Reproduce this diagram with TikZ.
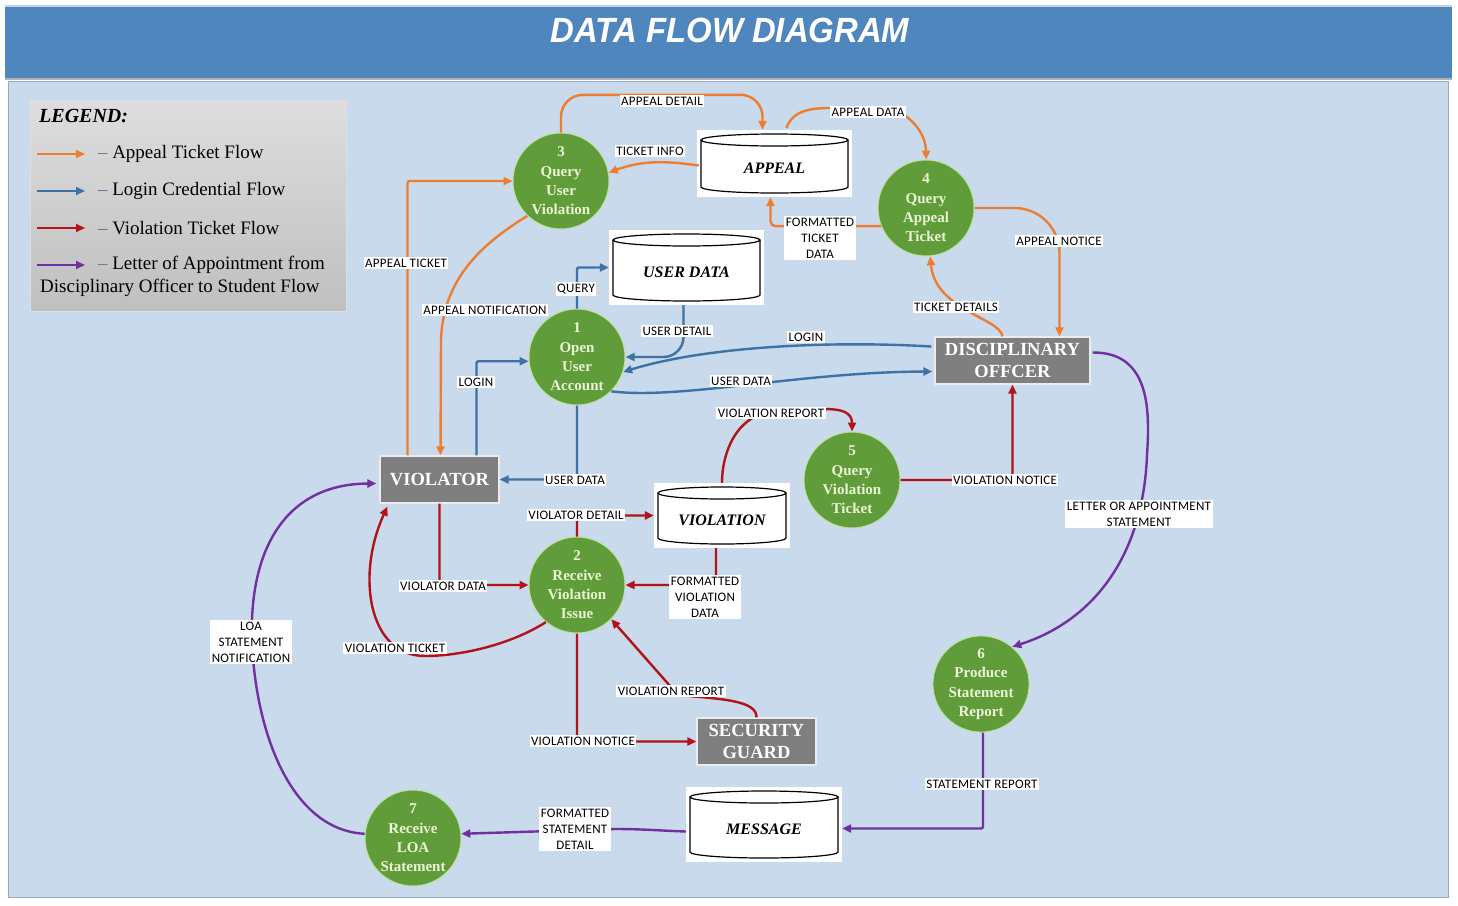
\documentclass[tikz,border=0pt]{standalone}
\usepackage{fontspec}
\setmainfont{Liberation Serif}
\newfontfamily\lblfont{Carlito}[LetterSpace=2]
\newfontfamily\titlefont{Liberation Sans}
\usepackage{tikz}
\usetikzlibrary{arrows.meta,calc,positioning}

\definecolor{bannerblue}{RGB}{79,134,190}
\definecolor{bannertop}{RGB}{190,210,232}
\definecolor{panelblue}{RGB}{200,218,235}
\definecolor{panelline}{RGB}{150,172,196}
\definecolor{appealorange}{RGB}{237,125,49}
\definecolor{loginblue}{RGB}{62,114,165}
\definecolor{ticketred}{RGB}{178,18,24}
\definecolor{loapurple}{RGB}{112,48,160}
\definecolor{procgreen}{RGB}{96,156,58}
\definecolor{procedge}{RGB}{190,225,160}
\definecolor{proctext}{RGB}{236,246,214}
\definecolor{entgray}{RGB}{127,127,127}
\definecolor{legdash}{RGB}{90,120,160}

\tikzset{
  flowline/.style={line width=2.4pt,->},
  appealflow/.style={flowline,appealorange},
  loginflow/.style={flowline,loginblue},
  ticketflow/.style={flowline,ticketred},
  loaflow/.style={flowline,loapurple},
  proc/.style={circle,minimum size=96pt,inner sep=0pt,fill=procgreen,draw=procedge,
    line width=1pt,text=proctext,align=center,font=\bfseries\fontsize{15}{19.3}\selectfont},
  ent/.style={rectangle,fill=entgray,draw=white!85!gray,line width=1.2pt,text=white,
    align=center,minimum height=47pt,inner sep=1pt,font=\bfseries\fontsize{18.5}{21.5}\selectfont},
  store/.style={rectangle,fill=white,minimum width=#1,minimum height=67pt,inner sep=0pt,
    text height=21pt,text depth=2pt,
    font=\bfseries\itshape\fontsize{16}{18}\selectfont,
    path picture={
      \draw[line width=1.2pt] ($(path picture bounding box.north west)+(4,-10)$)
        -- ($(path picture bounding box.south west)+(4,10)$)
        arc[start angle=180,end angle=360,x radius={#1/2-4},y radius=6]
        -- ($(path picture bounding box.north east)+(-4,-10)$);
      \draw[line width=1.2pt] ($(path picture bounding box.north)+(0,-10)$)
        ellipse[x radius={#1/2-4},y radius=6];
    }},
  lbl/.style={fill=white,inner sep=1.5pt,align=center,font=\lblfont\fontsize{13}{16}\selectfont},
  legendbox/.style={rectangle,minimum width=316pt,minimum height=211pt,
    top color=black!13,bottom color=black!25,draw=white!75!gray},
  legtxt/.style={anchor=west,inner sep=0pt,text=black,font=\fontsize{19}{23}\selectfont}
}

\begin{document}
\begin{tikzpicture}[x=1pt,y=1pt,>={Triangle[length=9pt,width=8pt]}]
\useasboundingbox (0,0) rectangle (1458,-905);
\fill[white] (0,0) rectangle (1458,-905);
% banner and panel
\fill[bannerblue] (5,-5) rectangle (1452,-78);
\draw[bannertop,line width=2pt] (5,-6) -- (1452,-6);
\fill[black!30] (5,-78) rectangle (1452,-80);
\filldraw[fill=panelblue,draw=panelline] (8,-81) rectangle (1448,-897);
\node[text=white,xscale=0.94,font=\titlefont\bfseries\itshape\fontsize{35}{35}\selectfont] (title) at (730,-30) {DATA FLOW DIAGRAM};

% legend
\node[legendbox] (legend) at (188,-205.5) {};
\node[legtxt,font=\bfseries\itshape\fontsize{20}{24}\selectfont] (legtitle) at (39,-116) {LEGEND:};
\draw[appealflow,line width=2pt] (37,-154) -- (85,-154) node[legtxt,right=12pt] (legA) {{\color{legdash}--} Appeal Ticket Flow};
\draw[loginflow,line width=2pt] (37,-191) -- (85,-191) node[legtxt,right=12pt] (legB) {{\color{legdash}--} Login Credential Flow};
\draw[ticketflow,line width=2pt] (37,-228) -- (85,-228) node[legtxt,right=12pt] (legC) {{\color{legdash}--} Violation Ticket Flow};
\draw[loaflow,line width=2pt] (37,-265) -- (85,-265) node[legtxt,right=12pt] (legD) {{\color{legdash}--} Letter of Appointment from};
\node[legtxt] (legD2) at (40,-288) {Disciplinary Officer to Student Flow};

% processes
\node[proc] (p1) at (577,-357) {1\\Open\\User\\Account};
\node[proc] (p2) at (577,-585) {2\\Receive\\Violation\\Issue};
\node[proc] (p3) at (561,-181) {3\\Query\\User\\Violation};
\node[proc] (p4) at (926,-208) {4\\Query\\Appeal\\Ticket};
\node[proc] (p5) at (852,-480) {5\\Query\\Violation\\Ticket};
\node[proc] (p6) at (981,-684) {6\\Produce\\Statement\\Report};
\node[proc] (p7) at (413,-838) {7\\Receive\\LOA\\Statement};

% data stores
\node[store=155] (appeal) at (774.5,-163.5) {APPEAL};
\node[store=155,minimum height=75pt] (userdata) at (686.5,-267.5) {USER DATA};
\node[store=136,minimum height=65pt] (violation) at (722,-515.5) {VIOLATION};
\node[store=156,minimum height=75pt] (message) at (764,-824.5) {MESSAGE};

% entities
\node[ent,minimum width=119pt] (violator) at (439.5,-479.5) {VIOLATOR};
\node[ent,minimum width=155pt] (disc) at (1012.5,-360.5) {DISCIPLINARY\\OFFCER};
\node[ent,minimum width=119pt] (guard) at (756.5,-741.5) {SECURITY\\GUARD};

% appeal flows
\draw[appealflow,rounded corners=22pt] (p3.north) |- ($(appeal.north)+(-12,35)$) -- ($(appeal.north)+(-12,0)$);
\draw[appealflow] ($(appeal.north)+(12,2)$) to[out=70,in=180] (840,-108) -- (880,-108) to[out=0,in=90] (p4.north);
\draw[appealflow] ($(appeal.west)+(2,-2)$) to[out=172,in=20] (p3.10);
\draw[appealflow,rounded corners=5pt] (p4.202) -| ($(appeal.south)+(-4,0)$);
\draw[appealflow,rounded corners=45pt] (p4.east) -| ($(disc.north)+(47,0)$);
\draw[appealflow] ($(disc.north)+(-10,0)$) .. controls (1000,-318) and (935,-310) .. (p4.-85);
\draw[appealflow,rounded corners=2pt] ($(violator.north)+(-32,0)$) |- (p3.west);
\draw[appealflow] (p3.226) .. controls (480,-245) and (443,-280) .. (441,-340) -- ($(violator.north)+(1,0)$);

% login flows
\draw[loginflow,rounded corners=2pt] (p1.north) |- (userdata.west);
\draw[loginflow,rounded corners=20pt] ($(userdata.south)+(-3,0)$) |- (p1.east);
\draw[loginflow,rounded corners=2pt] ($(violator.north)+(37,0)$) |- (p1.185);
\draw[loginflow,rounded corners=2pt] (p1.south) |- (violator.east);
\draw[loginflow] ($(disc.west)+(-3,14)$) .. controls (820,-340) and (700,-348) .. (p1.-18);
\draw[loginflow] (p1.-45) .. controls (680,-400) and (800,-372) .. ($(disc.west)+(-2,-11)$);

% violation flows
\draw[ticketflow,rounded corners=2pt] (p2.north) |- (violation.west);
\draw[ticketflow] (violation.north) to[out=90,in=180] (775,-412) to[out=0,in=90] (p5.north);
\draw[ticketflow,rounded corners=2pt] (p5.east) -| (disc.south);
\draw[ticketflow,rounded corners=2pt] ($(violation.south)+(-6,0)$) |- (p2.east);
\draw[ticketflow,rounded corners=2pt] (violator.south) |- (p2.west);
\draw[ticketflow] (p2.230) .. controls (510,-645) and (460,-656) .. (425,-656)
  .. controls (368,-656) and (356,-575) .. ($(violator.south west)+(8,-3)$);
\draw[ticketflow] (guard.north) .. controls (757,-700) and (720,-699) .. (678,-695) -- (p2.-45);
\draw[ticketflow,rounded corners=2pt] (p2.south) |- (guard.west);

% letter of appointment flows
\draw[loaflow] ($(disc.east)+(2,8)$) .. controls (1150,-352) and (1150,-410) .. (1147,-455)
  .. controls (1143,-560) and (1090,-622) .. (p6.50);
\draw[loaflow,rounded corners=2pt] ($(p6.south)+(2,0)$) |- ($(message.east)+(0,-4)$);
\draw[loaflow] ($(message.west)+(0,-7)$) to[out=178,in=0] (615,-829) -- (p7.5);
\draw[loaflow] (p7.175) .. controls (290,-830) and (255,-730) .. (252,-640)
  .. controls (249,-550) and (285,-484) .. ($(violator.west)+(-3,-4)$);

% flow labels
\path (662,-101) node[lbl] (lApDetail) {APPEAL DETAIL}
  (868,-112) node[lbl] (lApData) {APPEAL DATA}
  (650,-151) node[lbl] (lTkInfo) {TICKET INFO}
  (820,-238) node[lbl] (lFmTicket) {FORMATTED\\TICKET\\DATA}
  (1059,-241) node[lbl] (lApNotice) {APPEAL NOTICE}
  (956,-307) node[lbl] (lTkDetails) {TICKET DETAILS}
  (406,-263) node[lbl] (lApTicket) {APPEAL TICKET}
  (485,-310) node[lbl] (lApNotif) {APPEAL NOTIFICATION}
  (576,-289) node[lbl] (lQuery) {QUERY}
  (677,-331) node[lbl] (lUsDetail) {USER DETAIL}
  (476,-382) node[lbl] (lLoginA) {LOGIN}
  (806,-337) node[lbl] (lLoginB) {LOGIN}
  (741,-381) node[lbl] (lUsDataB) {USER DATA}
  (575,-480) node[lbl] (lUsDataA) {USER DATA}
  (771,-413) node[lbl] (lVRepA) {VIOLATION REPORT}
  (1005,-480) node[lbl] (lVNotA) {VIOLATION NOTICE}
  (576,-515) node[lbl] (lVDetail) {VIOLATOR DETAIL}
  (705,-597) node[lbl] (lFmViol) {FORMATTED\\VIOLATION\\DATA}
  (443,-586) node[lbl] (lVData) {VIOLATOR DATA}
  (395,-648) node[lbl] (lVTicket) {VIOLATION TICKET}
  (671,-691) node[lbl] (lVRepB) {VIOLATION REPORT}
  (583,-741) node[lbl] (lVNotB) {VIOLATION NOTICE}
  (1139,-514) node[lbl] (lLetter) {LETTER OR APPOINTMENT\\STATEMENT}
  (982,-784) node[lbl] (lStReport) {STATEMENT REPORT}
  (575,-829) node[lbl] (lFmStmt) {FORMATTED\\STATEMENT\\DETAIL}
  (251,-642) node[lbl] (lLoa) {LOA\\STATEMENT\\NOTIFICATION};
\end{tikzpicture}
\end{document}
